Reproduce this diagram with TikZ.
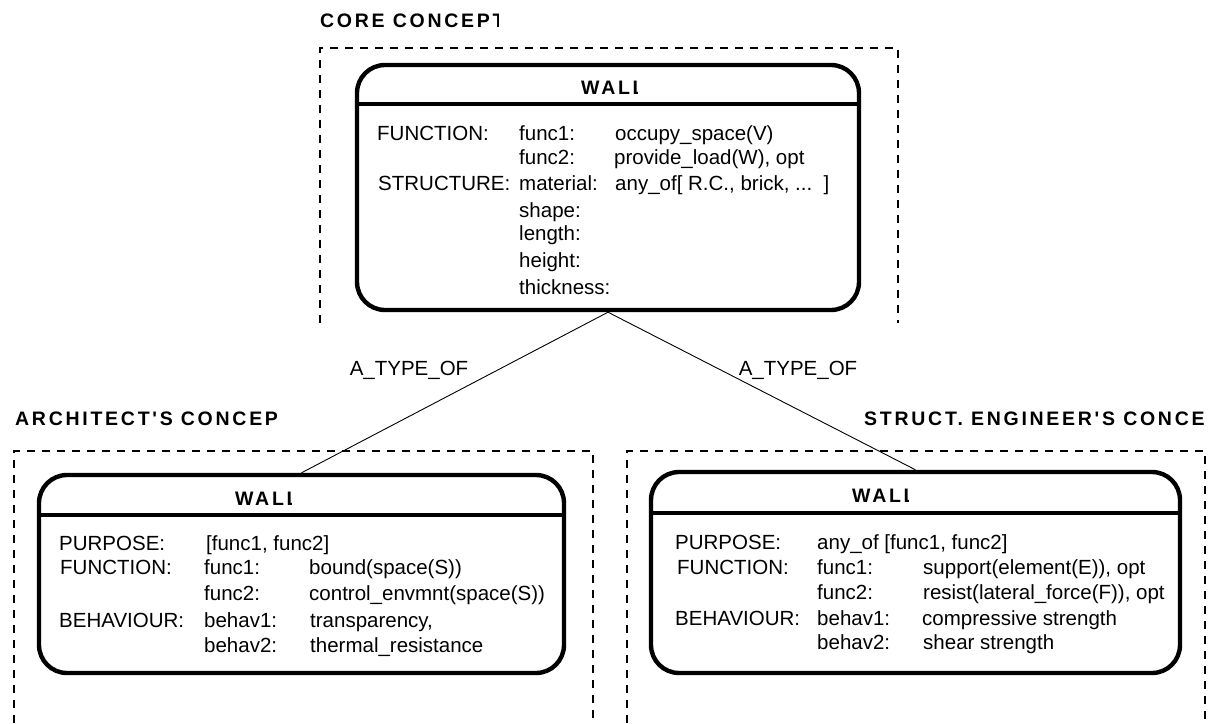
\documentclass[tikz,border=0pt]{standalone}
\usepackage{fontspec}
\setmainfont{Liberation Sans}
\newfontfamily\ttlfont{Liberation Sans}[LetterSpace=14]
\begin{document}
\begin{tikzpicture}[x=1pt,y=-1pt,
  txt/.style={anchor=base west,inner sep=0pt,font=\fontsize{20.5}{24}\selectfont},
  ttl/.style={anchor=base west,inner sep=0pt,font=\ttlfont\bfseries\fontsize{19.5}{22}\selectfont},
  dashbox/.style={line width=2.4pt,dash pattern=on 8pt off 7pt},
  wallbox/.style={draw,line width=4.4pt,rounded corners=28pt,inner sep=0pt,rectangle},
  hdr/.style={line width=3.6pt},
  link/.style={line width=0.9pt},
  lbl/.style={anchor=base,inner sep=0pt,font=\fontsize{20.5}{24}\selectfont}]
\useasboundingbox (0,0) rectangle (1217,723);

% dashed concept frames
\draw[dashbox] (320,323) -- (320,48) -- (898,48) -- (898,323);
\draw[dashbox] (14,723) -- (14,451) -- (593,451) -- (593,723);
\draw[dashbox] (627,723) -- (627,451) -- (1205,451) -- (1205,723);

% titles (cut off as in the original)
\begin{scope}
\clip (0,0) rectangle (498,45);
\node[ttl] (tcore) at (320,27) {CORE CONCEPT};
\end{scope}
\begin{scope}
\clip (0,395) rectangle (278,440);
\node[ttl] (tarch) at (15,425) {ARCHITECT'S CONCEPT};
\end{scope}
\begin{scope}
\clip (600,395) rectangle (1203,440);
\node[ttl] (tstr) at (864,425) {STRUCT. ENGINEER'S CONCEPT};
\end{scope}

% boxes
\node[wallbox,minimum width=502pt,minimum height=245pt] (core) at (608,187.5) {};
\node[wallbox,minimum width=525pt,minimum height=198pt] (arch) at (301.5,574) {};
\node[wallbox,minimum width=529pt,minimum height=201pt] (str) at (915.5,572.5) {};

\draw[hdr] (357,104) -- (859,104);
\draw[hdr] (39,515) -- (564,515);
\draw[hdr] (651,513) -- (1180,513);

\begin{scope}
\clip (500,60) rectangle (637,102);
\node[ttl] (wcore) at (581,94) {WALL};
\end{scope}
\begin{scope}
\clip (150,478) rectangle (291,512);
\node[ttl] (warch) at (235,505) {WALL};
\end{scope}
\begin{scope}
\clip (780,476) rectangle (908,510);
\node[ttl] (wstr) at (852,502) {WALL};
\end{scope}

% connectors
\draw[link] (core.south) -- (arch.north);
\draw[link] (core.south) -- (str.north);
\node[lbl] (la) at (409,375) {A\_TYPE\_OF};
\node[lbl] (lb) at (798,375) {A\_TYPE\_OF};

% core contents
\node[txt] (c1a) at (377,140) {FUNCTION:};
\node[txt] (c1b) at (519,140) {func1:};
\node[txt] (c1c) at (615,140) {occupy\_space(V)};
\node[txt] (c2b) at (519,164) {func2:};
\node[txt] (c2c) at (614,164) {provide\_load(W), opt};
\node[txt] (c3a) at (378,190) {STRUCTURE:};
\node[txt] (c3b) at (519,190) {material:};
\node[txt] (c3c) at (615,190) {any\_of[ R.C., brick, ...\ \ ]};
\node[txt] (c4b) at (519,217) {shape:};
\node[txt] (c5b) at (519,240) {length:};
\node[txt] (c6b) at (519,267) {height:};
\node[txt] (c7b) at (519,294) {thickness:};

% architect contents
\node[txt] (a1a) at (59,550) {PURPOSE:};
\node[txt] (a1b) at (206,550) {[func1, func2]};
\node[txt] (a2a) at (60,574) {FUNCTION:};
\node[txt] (a2b) at (204,574) {func1:};
\node[txt] (a2c) at (309,574) {bound(space(S))};
\node[txt] (a3b) at (204,600) {func2:};
\node[txt] (a3c) at (309,600) {control\_envmnt(space(S))};
\node[txt] (a4a) at (59,627) {BEHAVIOUR:};
\node[txt] (a4b) at (204,627) {behav1:};
\node[txt] (a4c) at (310,627) {transparency,};
\node[txt] (a5b) at (204,652) {behav2:};
\node[txt] (a5c) at (310,652) {thermal\_resistance};

% structural engineer contents
\node[txt] (s1a) at (675,549) {PURPOSE:};
\node[txt] (s1b) at (817,549) {any\_of [func1, func2]};
\node[txt] (s2a) at (677,574) {FUNCTION:};
\node[txt] (s2b) at (817,574) {func1:};
\node[txt] (s2c) at (923,574) {support(element(E)), opt};
\node[txt] (s3b) at (817,599) {func2:};
\node[txt] (s3c) at (923,599) {resist(lateral\_force(F)), opt};
\node[txt] (s4a) at (675,625) {BEHAVIOUR:};
\node[txt] (s4b) at (817,625) {behav1:};
\node[txt] (s4c) at (922,625) {compressive strength};
\node[txt] (s5b) at (817,649) {behav2:};
\node[txt] (s5c) at (923,649) {shear strength};
\end{tikzpicture}
\end{document}
